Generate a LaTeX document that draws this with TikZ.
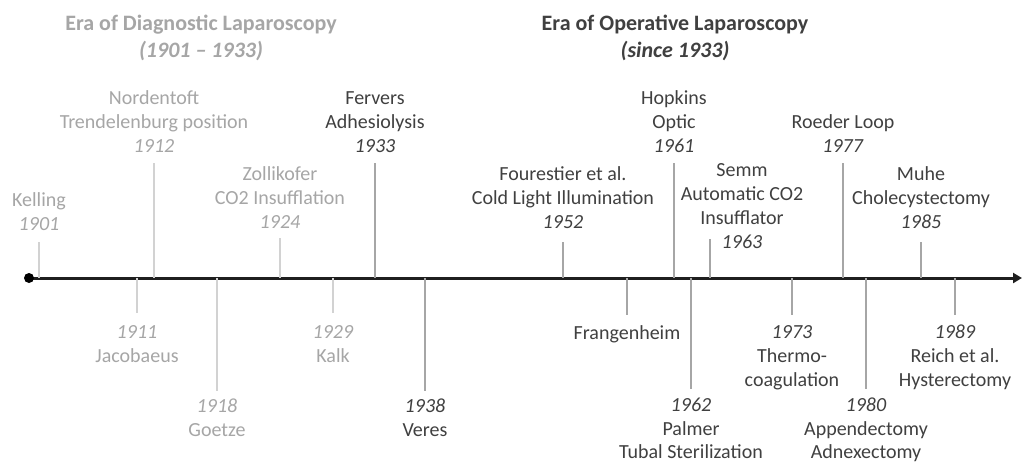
\documentclass[tikz,border=0pt]{standalone}
\usepackage{fontspec}
\setmainfont{Carlito}
\usetikzlibrary{arrows.meta}
\definecolor{lt}{HTML}{A6A6A6}
\definecolor{dk}{HTML}{404040}
\definecolor{ltline}{HTML}{D2D2D2}
\definecolor{dkline}{HTML}{A6A6A6}
\begin{document}
\begin{tikzpicture}[x=1pt,y=-1pt,
  lbl/.style={align=center,inner sep=0pt,font=\fontsize{20}{24}\selectfont},
  early/.style={lbl,text=lt},
  late/.style={lbl,text=dk},
  tight/.style={font=\fontsize{20}{23.4}\selectfont},
  tickE/.style={draw=ltline,line width=1.5pt},
  tickL/.style={draw=dkline,line width=1.5pt},
  eratitle/.style={align=center,inner sep=0pt,font=\fontsize{22}{27}\selectfont\bfseries}]
\useasboundingbox[fill=white] (0,0) rectangle (1022,463);

% titles
\node[eratitle,text=lt] (eraD) at (201,38) {Era of Diagnostic Laparoscopy\\\textit{(1901 -- 1933)}};
\node[eratitle,text=dk] (eraO) at (675,38) {Era of Operative Laparoscopy\\\textit{(since 1933)}};

% axis
\coordinate (start) at (29,278);
\coordinate (end) at (1022,278);
\draw[line width=3pt,color=black!88,-{Triangle[length=9pt,width=10pt]}] (start) -- (end);
\fill[black] (start) circle (5);

% axis points
\foreach \n/\x in {1901/39,1912/154,1924/280,1933/375,1952/563,1961/674,1963/710,1977/843,1985/921,
                   1911/137,1918/217,1929/333,1938/425,fr/627,1962/691,1973/792,1980/866,1989/955}
  \coordinate (a\n) at (\x,278);

% top labels
\node[early,anchor=south] (n1901) at (39,231) {Kelling\\\textit{1901}};
\node[early,anchor=south] (n1912) at (154,153) {Nordentoft\\Trendelenburg position\\\textit{1912}};
\node[early,anchor=south] (n1924) at (280,229) {Zollikofer\\CO2 Insufflation\\\textit{1924}};
\node[late,anchor=south] (n1933) at (375,153) {Fervers\\Adhesiolysis\\\textit{1933}};
\node[late,anchor=south] (n1952) at (563,229) {Fourestier et al.\\Cold Light Illumination\\\textit{1952}};
\node[late,anchor=south] (n1961) at (674,153) {Hopkins\\Optic\\\textit{1961}};
\node[late,anchor=south] (n1963) at (742,249) {Semm\\Automatic CO2\\Insufflator\\\textit{1963}};
\node[late,anchor=south] (n1977) at (843,153) {Roeder Loop\\\textit{1977}};
\node[late,anchor=south] (n1985) at (921,229) {Muhe\\Cholecystectomy\\\textit{1985}};
\coordinate (t1963) at (710,239);

\draw[tickE,shorten <=11pt] (n1901.south) -- (a1901);
\draw[tickE,shorten <=10pt] (n1912.south) -- (a1912);
\draw[tickE,shorten <=9pt] (n1924.south) -- (a1924);
\draw[tickL,shorten <=10pt] (n1933.south) -- (a1933);
\draw[tickL,shorten <=13pt] (n1952.south) -- (a1952);
\draw[tickL,shorten <=10pt] (n1961.south) -- (a1961);
\draw[tickL] (t1963) -- (a1963);
\draw[tickL,shorten <=10pt] (n1977.south) -- (a1977);
\draw[tickL,shorten <=13pt] (n1985.south) -- (a1985);

% bottom labels
\node[early,anchor=north] (n1911) at (137,325) {\textit{1911}\\Jacobaeus};
\node[early,anchor=north] (n1918) at (217,399) {\textit{1918}\\Goetze};
\node[early,anchor=north] (n1929) at (333,325) {\textit{1929}\\Kalk};
\node[late,anchor=north] (n1938) at (425,399) {\textit{1938}\\Veres};
\node[late,anchor=north] (nfr) at (627,325) {Frangenheim};
\node[late,tight,anchor=north] (n1962) at (691,398) {\textit{1962}\\Palmer\\Tubal Sterilization};
\node[late,anchor=north] (n1973) at (792,325) {\textit{1973}\\Thermo-\\coagulation};
\node[late,tight,anchor=north] (n1980) at (866,398) {\textit{1980}\\Appendectomy\\Adnexectomy};
\node[late,anchor=north] (n1989) at (955,325) {\textit{1989}\\Reich et al.\\Hysterectomy};

\draw[tickE,shorten >=12pt] (a1911) -- (n1911.north);
\draw[tickE,shorten >=8pt] (a1918) -- (n1918.north);
\draw[tickE,shorten >=12pt] (a1929) -- (n1929.north);
\draw[tickL,shorten >=8pt] (a1938) -- (n1938.north);
\draw[tickL,shorten >=10pt] (afr) -- (nfr.north);
\draw[tickL,shorten >=9pt] (a1962) -- (n1962.north);
\draw[tickL,shorten >=10pt] (a1973) -- (n1973.north);
\draw[tickL,shorten >=9pt] (a1980) -- (n1980.north);
\draw[tickL,shorten >=10pt] (a1989) -- (n1989.north);
\end{tikzpicture}
\end{document}
